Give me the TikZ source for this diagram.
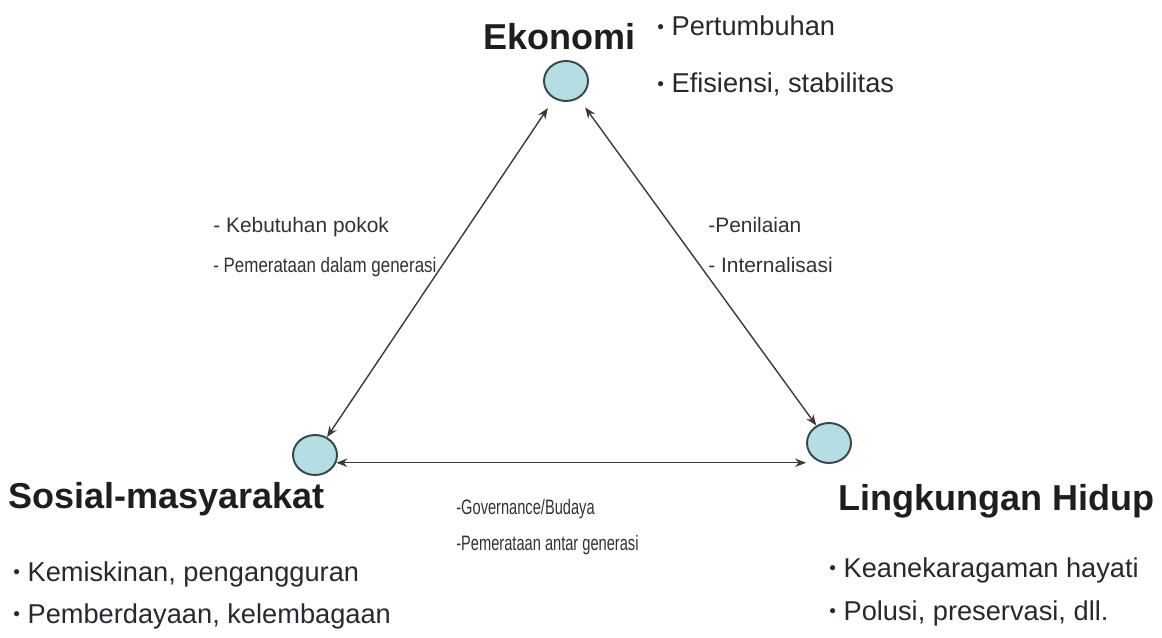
\documentclass[tikz,border=0pt]{standalone}
\usepackage{fontspec}
\setmainfont{Liberation Sans}
\newfontfamily\semifont[FakeStretch=0.81]{Liberation Sans}
\newfontfamily\narrowfont[FakeStretch=0.70]{Liberation Sans}
\usepackage{tikz}
\usetikzlibrary{shapes.geometric, arrows.meta, calc}
\definecolor{polefill}{RGB}{180,221,228}
\definecolor{poleline}{RGB}{52,72,74}
\definecolor{linkgray}{RGB}{58,58,58}
\definecolor{titleblack}{RGB}{30,30,30}
\definecolor{itemgray}{RGB}{40,40,48}
\definecolor{notegray}{RGB}{50,50,50}
\newcommand*{\dotmark}{\raisebox{0.08em}{\scalebox{0.7}{•}}\ }

\begin{document}
\begin{tikzpicture}[x=0.02cm, y=-0.02cm,
  pole/.style={ellipse, draw=poleline, fill=polefill, line width=1.1pt, minimum width=0.88cm, minimum height=0.8cm, inner sep=0pt},
  link/.style={draw=linkgray, line width=0.8pt, {Stealth[length=0.22cm,width=0.17cm]}-{Stealth[length=0.22cm,width=0.17cm]}},
  title/.style={anchor=base west, inner sep=0pt, font=\fontsize{20.5}{24}\selectfont\bfseries, text=titleblack},
  item/.style={anchor=base west, inner sep=0pt, font=\fontsize{15.5}{19}\selectfont, text=itemgray},
  note/.style={anchor=base west, inner sep=0pt, font=\fontsize{11.9}{14}\selectfont, text=notegray},
  semi/.style={note, font=\semifont\fontsize{11.9}{14}\selectfont},
  narrow/.style={note, font=\narrowfont\fontsize{11.9}{14}\selectfont}]
 \useasboundingbox (0,0) rectangle (1162,638);
 % the three poles
 \node[pole] (eko) at (566,81) {};
 \node[pole] (sos) at (315,455) {};
 \node[pole] (lh) at (829,443) {};
 % links between the poles
 \draw[link, shorten <=0.22cm] (eko) -- (sos);
 \draw[link, shorten <=0.22cm] (eko) -- (lh);
 \draw[link] (sos.-20) -- (sos.-20 -| lh.west);
 % Ekonomi
 \node[title] (ekoname) at (483,50) {Ekonomi};
 \node[item] (ekoa) at (657,36) {\dotmark Pertumbuhan};
 \node[item] (ekob) at (657,93) {\dotmark Efisiensi, stabilitas};
 % Sosial-masyarakat
 \node[title] (sosname) at (8,508) {Sosial-masyarakat};
 \node[item] (sosa) at (13,581) {\dotmark Kemiskinan, pengangguran};
 \node[item] (sosb) at (13,623) {\dotmark Pemberdayaan, kelembagaan};
 % Lingkungan Hidup
 \node[title] (lhname) at (838,510) {Lingkungan Hidup};
 \node[item] (lha) at (829,577) {\dotmark Keanekaragaman hayati};
 \node[item] (lhb) at (829,620) {\dotmark Polusi, preservasi, dll.};
 % notes on the links
 \node[note] (esa) at (213,233) {- Kebutuhan pokok};
 \node[semi] (esb) at (213,273) {- Pemerataan dalam generasi};
 \node[note] (ela) at (708,233) {-Penilaian};
 \node[note] (elb) at (708,273) {- Internalisasi};
 \node[narrow] (sla) at (456,514) {-Governance/Budaya};
 \node[narrow] (slb) at (456,550) {-Pemerataan antar generasi};
\end{tikzpicture}
\end{document}
